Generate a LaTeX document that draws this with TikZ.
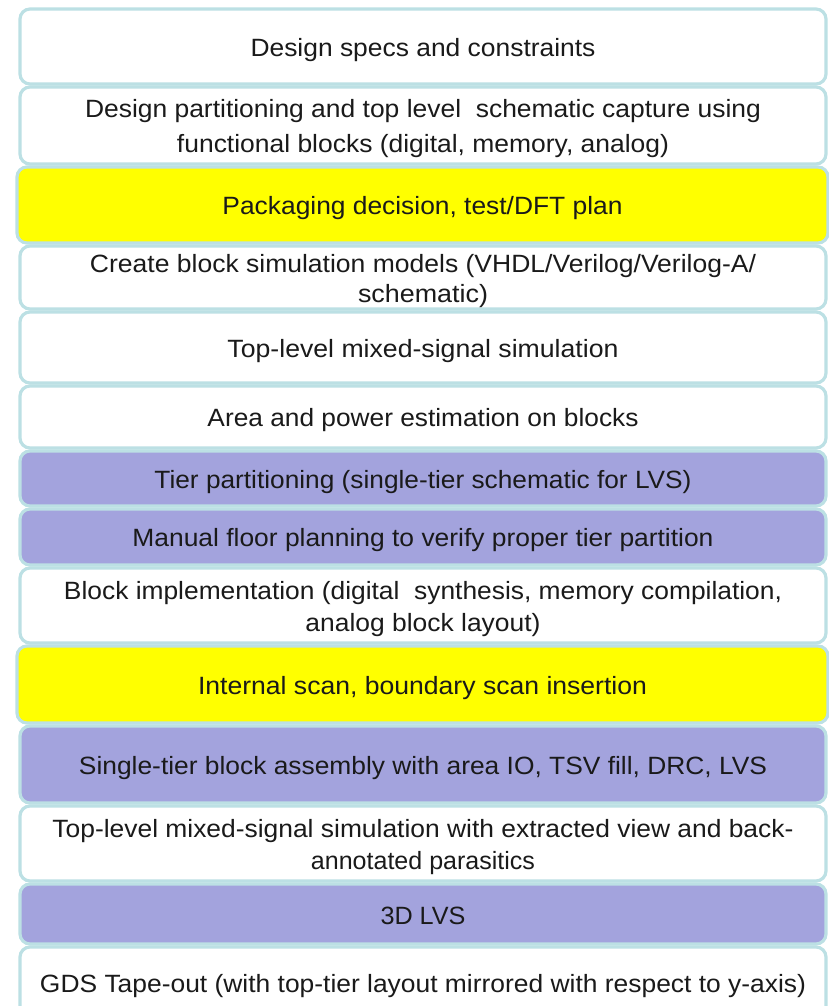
\documentclass[tikz,border=0pt]{standalone}
\usepackage{fontspec}
\setmainfont{Liberation Sans}
\usepackage{graphicx}
\definecolor{rimcol}{HTML}{BCE0E4}
\definecolor{hilite}{HTML}{FFFF00}
\definecolor{tiercol}{HTML}{A3A3DD}
\definecolor{inkcol}{HTML}{1A1A1A}
% one line of text, stretched horizontally to the given width (pt)
% and set a little low without changing its reported size
\newcommand\fl[2]{\raisebox{-3.5pt}[\height][\depth]{\resizebox{#1pt}{\height}{#2}}}
% a stage box: name, top, bottom, style, text (y measured downwards)
\newcommand\stage[5]{%
  \node[#4, minimum height={(#3-#2)*1pt}] (#1) at (0, {(#2+#3)/2}) {#5};}
\tikzset{
  stagebox/.style={draw=rimcol, line width=3.2pt, rounded corners=10pt,
    fill=white, inner sep=0pt, align=center, text=inkcol,
    minimum width=806pt, xshift=423pt,
    font=\fontsize{25}{35}\selectfont},
  plainstage/.style={stagebox},
  keystage/.style={stagebox, fill=hilite, minimum width=811pt, xshift=-0.5pt},
  tierstage/.style={stagebox, fill=tiercol},
  tight/.style={font=\fontsize{25}{30}\selectfont},
  mid/.style={font=\fontsize{25}{32}\selectfont},
}
\begin{document}
\begin{tikzpicture}[x=1pt, y=-1pt]
  \useasboundingbox (0,0) rectangle (829,1006);
  \clip (0,0) rectangle (829,1006);
  \stage{s1}{9}{84}{plainstage}{\fl{345}{Design specs and constraints}}
  \stage{s2}{87}{164}{plainstage}{\fl{676}{Design partitioning and top level\ \ schematic capture using}\\
    \fl{492}{functional blocks (digital, memory, analog)}}
  \stage{s3}{167}{243}{keystage}{\fl{400}{Packaging decision, test/DFT plan}}
  \stage{s4}{246}{309}{plainstage,tight}{\fl{666}{Create block simulation models (VHDL/Verilog/Verilog-A/}\\
    \fl{130}{schematic)}}
  \stage{s5}{312}{383}{plainstage}{\fl{391}{Top-level mixed-signal simulation}}
  \stage{s6}{386}{448}{plainstage}{\fl{431}{Area and power estimation on blocks}}
  \stage{s7}{451}{506}{tierstage}{\fl{537}{Tier partitioning (single-tier schematic for LVS)}}
  \stage{s8}{509}{565}{tierstage}{\fl{581}{Manual floor planning to verify proper tier partition}}
  \stage{s9}{568}{643}{plainstage,mid}{\fl{718}{Block implementation (digital\ \ synthesis, memory compilation,}\\
    \fl{235}{analog block layout)}}
  \stage{s10}{646}{723}{keystage}{\fl{449}{Internal scan, boundary scan insertion}}
  \stage{s11}{726}{803}{tierstage}{\fl{688}{Single-tier block assembly with area IO, TSV fill, DRC, LVS}}
  \stage{s12}{806}{881}{plainstage,mid}{\fl{741}{Top-level mixed-signal simulation with extracted view and back-}\\
    \fl{224}{annotated parasitics}}
  \stage{s13}{884}{944}{tierstage}{\raisebox{3.5pt}{\fl{85}{3D LVS}}}
  \stage{s14}{947}{1034}{plainstage}{\raisebox{21pt}{\fl{766}{GDS Tape-out (with top-tier layout mirrored with respect to y-axis)}}}
\end{tikzpicture}
\end{document}
